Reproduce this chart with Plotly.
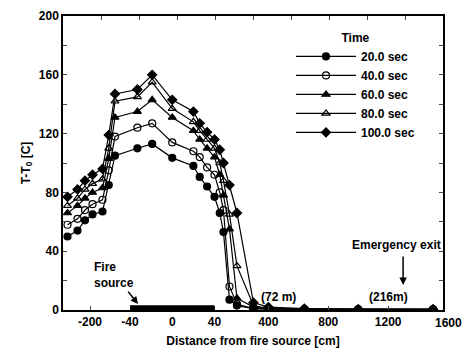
import numpy as np
import plotly.graph_objects as go

# Measuring stations along the tunnel [cm] (fire centred at 0)
distance_cm = [-290, -250, -220, -190, -150, -125, -100, -33, -19, 0, 20, 26, 33, 40,
               75, 100, 140, 190, 300, 400, 640, 1000, 1500]

time_labels = ["20.0 sec", "40.0 sec", "60.0 sec", "80.0 sec", "100.0 sec"]

# Temperature rise T - T0 [C] at each station
dT_20s = [50, 54, 61, 65, 67, 85, 105, 110, 113, 103.5, 98, 90.5, 84, 77,
          66, 53, 7, 3, 1, 1, 0.5, 0.5, 0.5]
dT_40s = [58, 62, 68, 72, 75, 95, 118, 124, 127, 114, 108, 104, 97, 92,
          80, 68, 16, 4, 1, 0.5, 0.5, 0.5, 0.5]
dT_60s = [66, 71, 76, 80, 83, 103, 131, 135, 143, 131, 122, 116, 110, 104,
          92, 78, 55, 8, 2, 1, 0.5, 0.5, 0.5]
dT_80s = [71, 76, 82, 86, 89, 110, 142, 145, 155, 137, 128, 122, 116, 110,
          100, 88, 65, 30, 3, 1, 0.5, 0.5, 0.5]
dT_100s = [77, 82, 88, 92, 96, 119, 147, 150, 160, 143, 135, 127, 121, 116,
           109, 100, 85, 66, 5, 2, 1, 0.5, 0.5]

x_tick_cm = [-200, -40, 0, 40, 400, 800, 1200]
x_tick_text = ["-200", "-40", "0", "40", "400", "800", "1200"]

# Broken distance scale: coarse upstream, expanded over the fire, coarse downstream
KNOT_CM = [-308, -200, -40, 40, 1600]
KNOT_POS = [63, 90, 130, 214.5, 448]
X_LO, X_HI = 63, 443


def to_pos(cm):
    return np.interp(np.asarray(cm, dtype=float), KNOT_CM, KNOT_POS)


series = [dT_20s, dT_40s, dT_60s, dT_80s, dT_100s]
symbols = ["circle", "circle-open", "triangle-up", "triangle-up-open", "diamond"]
sizes = [7, 7, 7, 7, 7]

FONT = dict(family="Arial", size=12, color="black", weight="bold")

fig = go.Figure()
xpos = to_pos(distance_cm)
for lab, vals, sym, sz in zip(time_labels, series, symbols, sizes):
    fig.add_trace(go.Scatter(
        x=xpos, y=vals, mode="lines+markers", name=lab,
        line=dict(color="black", width=1.2),
        marker=dict(symbol=sym, size=sz, color="black",
                    line=dict(color="black", width=1.2)),
    ))

# dummy trace so the top tick axis is rendered
fig.add_trace(go.Scatter(x=[X_LO, X_HI], y=[0, 0], xaxis="x2", mode="lines",
                         line=dict(width=0), opacity=0, showlegend=False,
                         hoverinfo="skip"))

# fire source bar on the floor
fig.add_shape(type="rect", x0=float(to_pos(-40)), x1=float(to_pos(40)), y0=0, y1=3.2,
              fillcolor="black", line=dict(width=0), layer="above")

annotations = [
    dict(x=92, y=23.5, xref="x", yref="y", text="Fire<br>source", showarrow=False,
         xanchor="left", yanchor="middle", align="left", font=FONT),
    dict(x=138, y=4, xref="x", yref="y", text="", showarrow=True, ax=-11, ay=-14,
         arrowhead=2, arrowsize=1, arrowwidth=1.5, arrowcolor="black"),
    dict(x=float(to_pos(1255)), y=44, xref="x", yref="y", text="Emergency exit",
         showarrow=False, xanchor="center", yanchor="middle", font=FONT),
    dict(x=float(to_pos(1300)), y=17, xref="x", yref="y", text="", showarrow=True,
         ax=0, ay=-30, arrowhead=2, arrowsize=1, arrowwidth=1.5, arrowcolor="black"),
    dict(x=float(to_pos(1200)), y=8.8, xref="x", yref="y", text="(216m)",
         showarrow=False, xanchor="center", yanchor="middle", font=FONT),
    dict(x=float(to_pos(470)), y=8.8, xref="x", yref="y", text="(72 m)",
         showarrow=False, xanchor="center", yanchor="middle", font=FONT),
    # last tick label sits just past the frame edge
    dict(x=(448 - X_LO) / (X_HI - X_LO), y=0, xref="paper", yref="paper", text="1600",
         showarrow=False, xanchor="center", yanchor="top", yshift=-4, font=FONT),
]

fig.update_layout(
    width=466, height=355,
    margin=dict(l=63, r=23, t=16, b=45, autoexpand=False),
    paper_bgcolor="white", plot_bgcolor="white",
    font=FONT,
    showlegend=True,
    legend=dict(x=0.6, y=0.965, xanchor="left", yanchor="top",
                bgcolor="rgba(0,0,0,0)", borderwidth=0,
                title=dict(text="Time", side="top center", font=FONT),
                itemwidth=60, font=FONT, tracegroupgap=0),
    annotations=annotations,
    xaxis=dict(range=[X_LO, X_HI], tickvals=[float(v) for v in to_pos(x_tick_cm)],
               ticktext=x_tick_text, ticks="inside", ticklen=4, tickwidth=1.2,
               showline=True, linecolor="black", linewidth=1.5, mirror=True,
               showgrid=False, zeroline=False, tickfont=FONT, automargin=False,
               title=dict(text="Distance from fire source [cm]", font=FONT, standoff=8)),
    xaxis2=dict(range=[X_LO, X_HI], overlaying="x", side="top",
                tickvals=[X_LO + 38 * k for k in range(1, 10)],
                showticklabels=False, ticks="inside", ticklen=4, tickwidth=1.2,
                showline=False, showgrid=False, zeroline=False, automargin=False),
    yaxis=dict(range=[0, 200], dtick=40, ticks="inside", ticklen=4, tickwidth=1.2,
               minor=dict(dtick=20, ticks="inside", ticklen=4, tickwidth=1.2),
               showline=True, linecolor="black", linewidth=1.5, mirror="ticks",
               showgrid=False, zeroline=False, tickfont=FONT, automargin=False,
               title=dict(text="T-T<sub>0</sub> [C]", font=FONT, standoff=6)),
)

fig.write_html("out.html")
